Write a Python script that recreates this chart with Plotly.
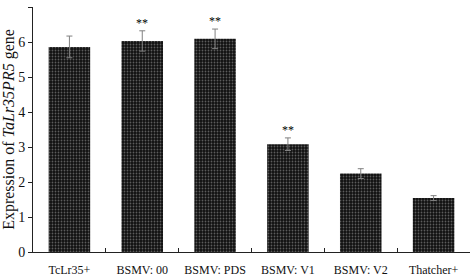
import plotly.graph_objects as go

categories = ["TcLr35+", "BSMV: 00", "BSMV: PDS", "BSMV: V1", "BSMV: V2", "Thatcher+"]
values = [5.86, 6.03, 6.09, 3.08, 2.24, 1.54]
errors = [0.31, 0.29, 0.28, 0.18, 0.14, 0.07]
marks = ["", "**", "**", "**", "", ""]
y_ticks = [0, 1, 2, 3, 4, 5, 6, 7]

FONT = "Liberation Serif"

fig = go.Figure()
fig.add_trace(go.Bar(
    x=categories, y=values,
    width=0.57,
    marker=dict(
        color="#111111",
        line=dict(width=0),
        pattern=dict(shape=".", fgcolor="#a8a8a8", bgcolor="#111111",
                     size=3, solidity=0.28, fillmode="overlay"),
    ),
    error_y=dict(type="data", array=errors, visible=True,
                 color="#808080", thickness=1, width=3),
))

for c, v, e, m in zip(categories, values, errors, marks):
    if m:
        fig.add_annotation(x=c, y=v + e, text=m, showarrow=False,
                           yanchor="bottom", yshift=-1,
                           font=dict(family=FONT, size=12, color="#000000"))

fig.update_layout(
    width=472, height=280,
    margin=dict(l=33, r=2, t=7, b=28),
    paper_bgcolor="white", plot_bgcolor="white",
    showlegend=False,
    font=dict(family=FONT, size=13, color="#111"),
    bargap=0.43,
)
fig.update_xaxes(
    type="category", automargin=False,
    showline=True, linecolor="#222", linewidth=1,
    ticks="inside", ticklen=4, tickcolor="#222", tickson="boundaries",
    showgrid=False, zeroline=False, tickangle=0,
    tickfont=dict(family=FONT, size=12, color="#111"),
    ticklabelstandoff=7,
)
fig.update_yaxes(
    range=[0, 7], tickvals=y_ticks, automargin=False,
    showline=True, linecolor="#222", linewidth=1,
    ticks="outside", ticklen=4, tickcolor="#222",
    showgrid=False, zeroline=False,
    tickfont=dict(family=FONT, size=14, color="#111"),
    title=dict(text="Expression of <i>TaLr35PR5</i> gene",
               font=dict(family=FONT, size=16, color="#111"), standoff=4),
)

fig.write_html(
    "out.html",
    config={"displayModeBar": False},
    post_script="document.body.style.margin='0';document.body.style.overflow='hidden';",
)
